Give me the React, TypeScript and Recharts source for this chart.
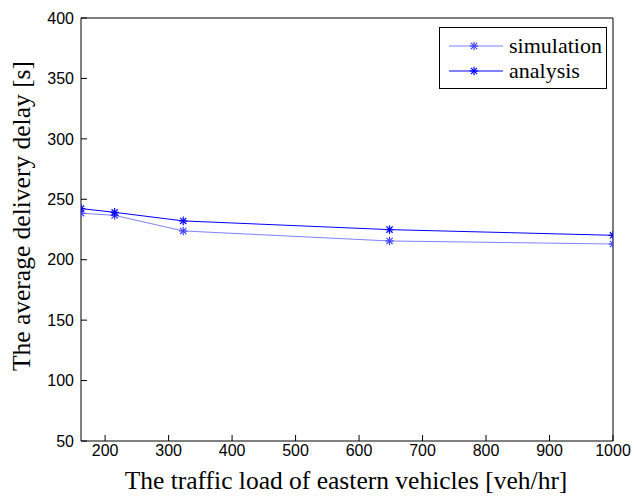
import { Line, LineChart, XAxis, YAxis } from 'recharts'

const loads = [162, 215, 323, 648, 1000]
const simulation = [238.5, 236.7, 223.8, 215.5, 213]
const analysis = [242.3, 239.2, 232.1, 224.9, 220.2]
const xTicks = [200, 300, 400, 500, 600, 700, 800, 900, 1000]
const yTicks = [50, 100, 150, 200, 250, 300, 350, 400]

const rows = loads.map((x, i) => ({ x, simulation: simulation[i], analysis: analysis[i] }))

const SIM = '#8080ff'
const SIM_MARK = '#4040ff'
const ANA = '#0000ff'
const SANS = '"Liberation Sans", Arial, sans-serif'
const SERIF = '"Liberation Serif", "Times New Roman", serif'

function Star({ cx, cy, color }: { cx?: number; cy?: number; color: string }) {
  if (cx == null || cy == null) return null
  const r = 4.3
  const d = r * 0.72
  return (
    <g stroke={color} strokeWidth={1.2}>
      <line x1={cx - r} y1={cy} x2={cx + r} y2={cy} />
      <line x1={cx} y1={cy - r} x2={cx} y2={cy + r} />
      <line x1={cx - d} y1={cy - d} x2={cx + d} y2={cy + d} />
      <line x1={cx - d} y1={cy + d} x2={cx + d} y2={cy - d} />
    </g>
  )
}

function LegendBox() {
  const items = [
    { name: 'simulation', line: SIM, mark: SIM_MARK },
    { name: 'analysis', line: ANA, mark: ANA },
  ]
  return (
    <div
      style={{
        position: 'absolute',
        left: 439,
        top: 27,
        border: '1px solid #000',
        background: '#fff',
        width: 168,
        height: 62,
        boxSizing: 'border-box',
        padding: '5px 0 0 9px',
      }}
    >
      {items.map((it) => (
        <div key={it.name} style={{ display: 'flex', alignItems: 'center', height: 25 }}>
          <svg width={54} height={14} style={{ flexShrink: 0 }}>
            <line x1={0} y1={7} x2={54} y2={7} stroke={it.line} strokeWidth={1.2} />
            <Star cx={25} cy={7} color={it.mark} />
          </svg>
          <span style={{ marginLeft: 6, fontFamily: SERIF, fontSize: 22, color: '#000', lineHeight: '25px' }}>
            {it.name}
          </span>
        </div>
      ))}
    </div>
  )
}

export default function App() {
  const tickFont = { fontFamily: SANS, fontSize: 16, fill: '#000' }
  return (
    <div style={{ position: 'absolute', left: 0, top: 0, width: 634, height: 501, background: '#fff' }}>
      <LineChart width={634} height={501} data={rows} margin={{ top: 17, right: 20, bottom: 30, left: 41 }}>
        <XAxis
          dataKey="x"
          type="number"
          domain={[162, 1000]}
          ticks={xTicks}
          allowDataOverflow
          height={30}
          tickSize={-6}
          tickMargin={10}
          stroke="#000"
          tick={tickFont}
        />
        <XAxis
          xAxisId="top"
          dataKey="x"
          orientation="top"
          type="number"
          domain={[162, 1000]}
          ticks={xTicks}
          height={1}
          tickSize={-6}
          tick={false}
          stroke="#000"
        />
        <YAxis
          type="number"
          domain={[50, 400]}
          ticks={yTicks}
          width={40}
          tickSize={-6}
          tickMargin={13}
          stroke="#000"
          tick={tickFont}
        />
        <YAxis
          yAxisId="right"
          orientation="right"
          type="number"
          domain={[50, 400]}
          ticks={yTicks}
          width={1}
          tickSize={-6}
          tick={false}
          stroke="#000"
        />
        {/* hidden series so the top and right axes draw the box */}
        <Line
          xAxisId="top"
          yAxisId="right"
          dataKey="analysis"
          stroke="none"
          dot={false}
          activeDot={false}
          isAnimationActive={false}
          legendType="none"
        />
        <Line
          dataKey="simulation"
          stroke={SIM}
          strokeWidth={1}
          isAnimationActive={false}
          dot={(p: any) => <Star key={`s${p.index}`} cx={p.cx} cy={p.cy} color={SIM_MARK} />}
          activeDot={false}
        />
        <Line
          dataKey="analysis"
          stroke={ANA}
          strokeWidth={1}
          isAnimationActive={false}
          dot={(p: any) => <Star key={`a${p.index}`} cx={p.cx} cy={p.cy} color={ANA} />}
          activeDot={false}
        />
      </LineChart>
      <LegendBox />
      <div
        style={{
          position: 'absolute',
          left: 346,
          top: 466,
          transform: 'translateX(-50%)',
          fontFamily: SERIF,
          fontSize: 25.5,
          color: '#000',
          whiteSpace: 'nowrap',
        }}
      >
        The traffic load of eastern vehicles [veh/hr]
      </div>
      <div
        style={{
          position: 'absolute',
          left: 21.5,
          top: 216,
          transform: 'translate(-50%, -50%) rotate(-90deg)',
          fontFamily: SERIF,
          fontSize: 25.5,
          color: '#000',
          whiteSpace: 'nowrap',
        }}
      >
        The average delivery delay [s]
      </div>
    </div>
  )
}
